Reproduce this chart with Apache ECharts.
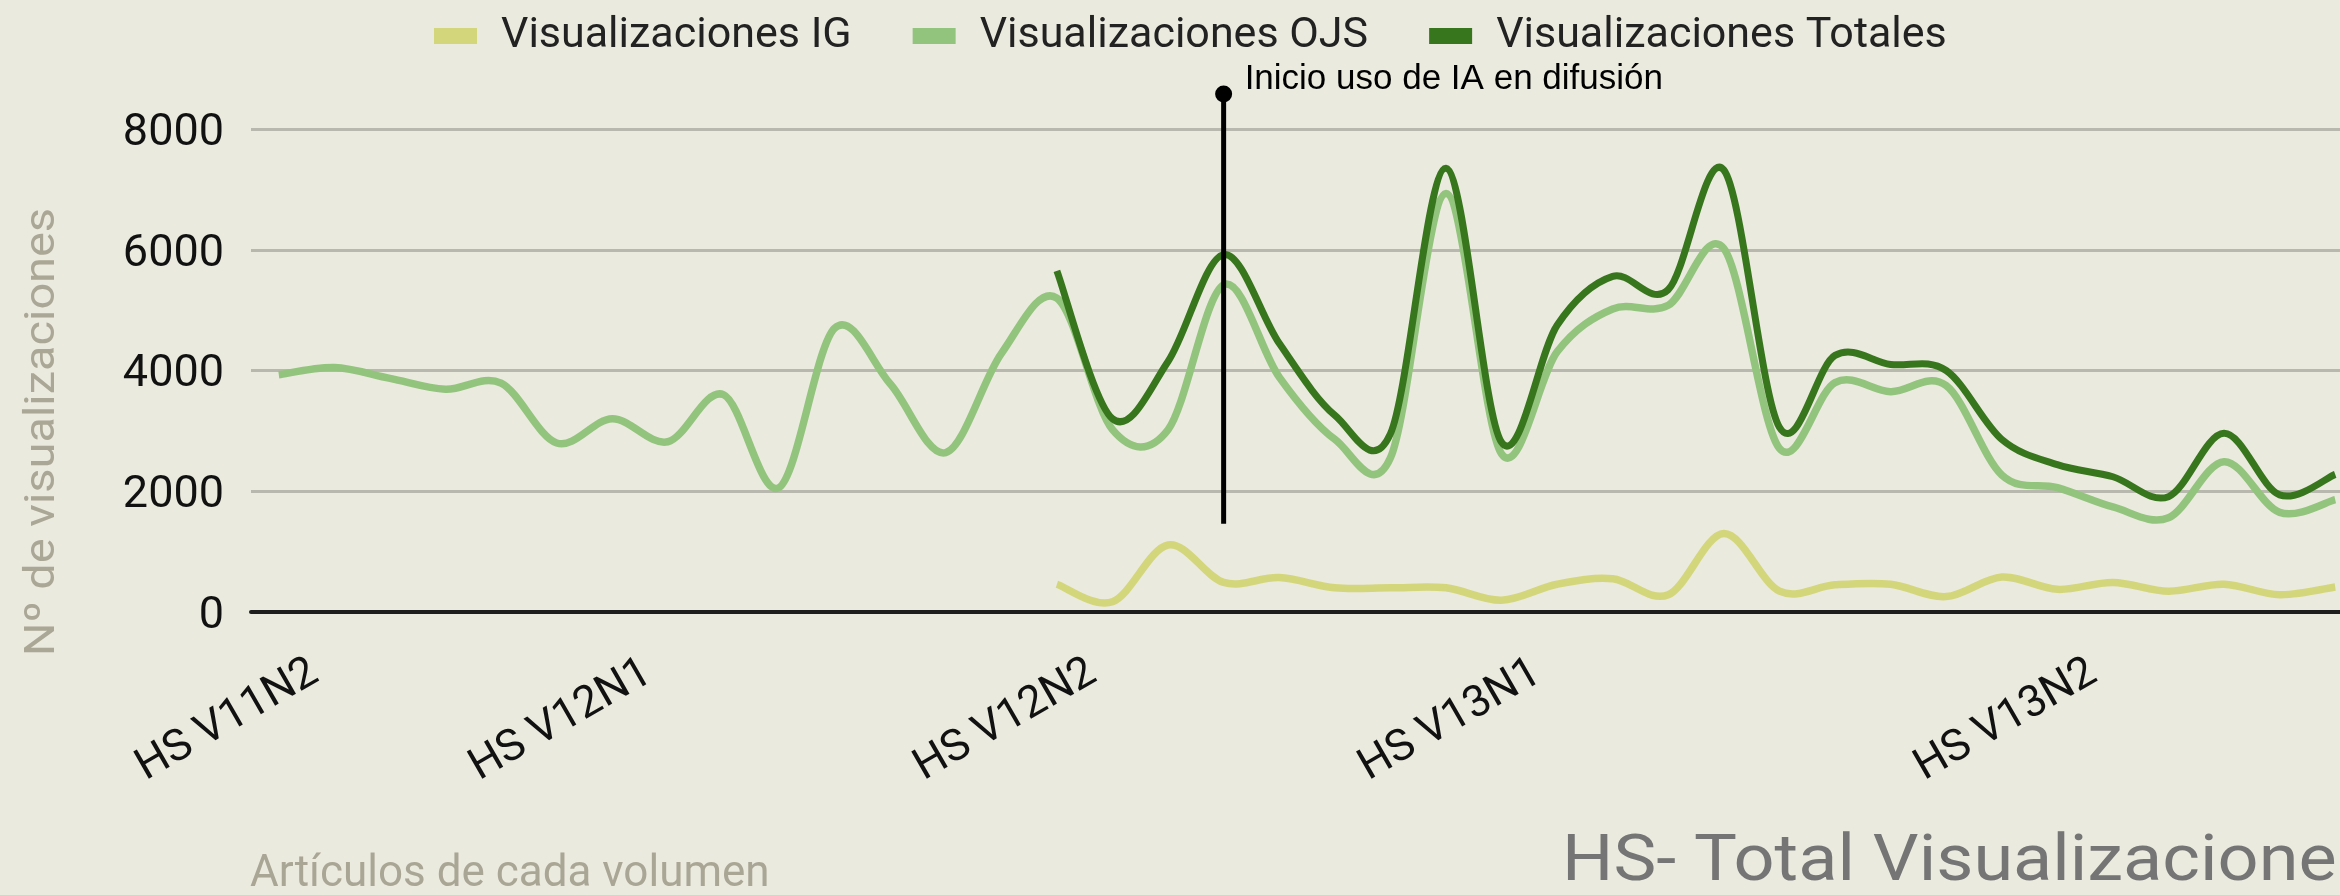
<!DOCTYPE html>
<html>
<head>
<meta charset="utf-8">
<script src="https://cdn.jsdelivr.net/npm/echarts@6/dist/echarts.min.js"></script>
<style>
html,body{margin:0;padding:0;overflow:hidden;background:#ebeadf;}
#c{width:2400px;height:895px;}
</style>
</head>
<body>
<div id="c"></div>
<script>
// Articles (one category per article, grouped by issue)
const categories = [
  'V11N2-1','V11N2-2','V11N2-3','V11N2-4','V11N2-5','V11N2-6',
  'V12N1-1','V12N1-2','V12N1-3','V12N1-4','V12N1-5','V12N1-6','V12N1-7','V12N1-8',
  'V12N2-1','V12N2-2','V12N2-3','V12N2-4','V12N2-5','V12N2-6','V12N2-7','V12N2-8',
  'V13N1-1','V13N1-2','V13N1-3','V13N1-4','V13N1-5','V13N1-6','V13N1-7','V13N1-8','V13N1-9','V13N1-10',
  'V13N2-1','V13N2-2','V13N2-3','V13N2-4','V13N2-5','V13N2-6'
];
// Tick labels shown on the first article of each issue
const tickLabels = [
  'HS V11N2','','','','','',
  'HS V12N1','','','','','','','',
  'HS V12N2','','','','','','','',
  'HS V13N1','','','','','','','','','',
  'HS V13N2','','','','',''
];
const seriesNames = ['Visualizaciones IG','Visualizaciones OJS','Visualizaciones Totales'];
const visIG = [
  null,null,null,null,null,null,null,null,null,null,null,null,null,null,
  460,170,1110,490,570,400,400,400,195,460,550,285,1300,345,450,460,255,580,375,490,345,460,285,415
];
const visOJS = [
  3930,4050,3870,3690,3790,2800,3200,2820,3600,2060,4700,3780,2640,4280,
  5200,3020,3020,5420,3890,2860,2550,6930,2620,4310,5020,5080,6020,2710,3800,3650,3750,2270,2060,1740,1560,2490,1650,1860
];
const visTotales = [
  null,null,null,null,null,null,null,null,null,null,null,null,null,null,
  5650,3200,4150,5920,4450,3260,2950,7350,2810,4750,5560,5340,7320,3060,4250,4100,4000,2860,2440,2240,1910,2960,1940,2280
];
const yMin = 0, yMax = 8000, yStep = 2000;
// Annotation: category index and value range of the marker line
const annotation = { index: 17, from: 1460, to: 8580, text: 'Inicio uso de IA en difusión' };

const colors = ['#d4d67c', '#93c47d', '#38761d'];
const widths = [7.5, 7.5, 7];
const FONT = 'Roboto';

// Cardinal (Catmull-Rom) curve through the pixel positions given by the axes
function splinePath(px, k) {
  let d = 'M' + px[0][0] + ',' + px[0][1];
  for (let i = 0; i < px.length - 1; i++) {
    const p0 = px[i - 1] || px[i], p1 = px[i], p2 = px[i + 1], p3 = px[i + 2] || px[i + 1];
    const c1x = p1[0] + (p2[0] - p0[0]) * k / 6, c1y = p1[1] + (p2[1] - p0[1]) * k / 6;
    const c2x = p2[0] - (p3[0] - p1[0]) * k / 6, c2y = p2[1] - (p3[1] - p1[1]) * k / 6;
    d += ' C' + c1x + ',' + c1y + ' ' + c2x + ',' + c2y + ' ' + p2[0] + ',' + p2[1];
  }
  return d;
}

function curveSeries(name, values, color, width) {
  const pts = [];
  values.forEach((v, i) => { if (v != null) pts.push([i, v]); });
  return {
    name: name, type: 'custom', data: pts, encode: { x: 0, y: 1 },
    itemStyle: { color: color },
    renderItem: function (params, api) {
      if (params.dataIndex !== 0) return null;
      const px = pts.map(p => api.coord(p));
      return {
        type: 'path',
        shape: { pathData: splinePath(px, 1) },
        style: { stroke: color, lineWidth: width, fill: 'none', lineJoin: 'round', lineCap: 'butt' }
      };
    }
  };
}

const chart = echarts.init(document.getElementById('c'), null, { renderer: 'canvas' });
chart.setOption({
  animation: false,
  backgroundColor: '#ebeadf',
  grid: { left: 251, top: 129, right: 37, bottom: 283, containLabel: false },
  legend: {
    data: seriesNames,
    left: 429, top: 9,
    icon: 'rect', itemWidth: 43, itemHeight: 16, itemGap: 61,
    textStyle: { fontFamily: FONT, fontSize: 43, color: '#222', padding: [0, 0, 0, 19], lineHeight: 44 }
  },
  xAxis: {
    type: 'category',
    data: categories,
    boundaryGap: true,
    axisLine: { lineStyle: { color: '#1e1e1e', width: 4 } },
    axisTick: { show: false },
    axisLabel: {
      interval: 0, rotate: 30, margin: 79,
      padding: [0, -42, 0, 0],
      fontFamily: FONT, fontSize: 44, color: '#111',
      formatter: (v, i) => tickLabels[i]
    },
    splitLine: { show: false }
  },
  yAxis: {
    type: 'value', min: yMin, max: yMax, interval: yStep,
    axisLine: { show: false }, axisTick: { show: false },
    axisLabel: {
      margin: 27, fontFamily: FONT, fontSize: 45, color: '#111',
      formatter: v => '{t|' + v + '}',
      rich: { t: { fontFamily: FONT, fontSize: 45, color: '#111', padding: [9, 0, 0, 0] } }
    },
    splitLine: { lineStyle: { color: '#b9b8ae', width: 3 } }
  },
  series: [
    curveSeries(seriesNames[0], visIG, colors[0], widths[0]),
    curveSeries(seriesNames[1], visOJS, colors[1], widths[1]),
    curveSeries(seriesNames[2], visTotales, colors[2], widths[2])
  ]
});

const p0 = chart.convertToPixel({ xAxisIndex: 0, yAxisIndex: 0 }, [annotation.index, annotation.from]);
const p1 = chart.convertToPixel({ xAxisIndex: 0, yAxisIndex: 0 }, [annotation.index, annotation.to]);

chart.setOption({
  graphic: [
    { type: 'line', z: 100, shape: { x1: p0[0], y1: p0[1], x2: p1[0], y2: p1[1] },
      style: { stroke: '#000', lineWidth: 5 } },
    { type: 'circle', z: 101, shape: { cx: p1[0], cy: p1[1], r: 8.5 }, style: { fill: '#000' } },
    { type: 'text', z: 101, x: p1[0] + 21, y: p1[1] - 15,
      style: { text: annotation.text, fontFamily: 'Liberation Sans', fontSize: 35, fill: '#000',
               textAlign: 'left', textVerticalAlign: 'middle' } },
    { type: 'text', x: 43, y: 432, rotation: Math.PI / 2, scaleX: 1.116,
      style: { text: 'Nº de visualizaciones', fontFamily: FONT, fontSize: 42, fill: '#aba796',
               textAlign: 'center', textVerticalAlign: 'middle' } },
    { type: 'text', x: 250, y: 875,
      style: { text: 'Artículos de cada volumen', fontFamily: FONT, fontSize: 44, fill: '#aaa695',
               textAlign: 'left', textVerticalAlign: 'middle' } },
    { type: 'text', x: 1562, y: 864, scaleX: 1.126,
      style: { text: 'HS- Total Visualizaciones', fontFamily: FONT, fontSize: 64, fill: '#757575',
               textAlign: 'left', textVerticalAlign: 'middle' } }
  ]
});
</script>
</body>
</html>
